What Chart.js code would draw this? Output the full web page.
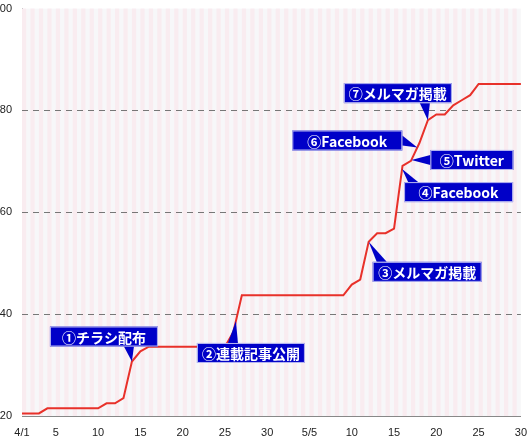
<!DOCTYPE html>
<html><head><meta charset="utf-8">
<script src="https://cdn.jsdelivr.net/npm/chart.js@4"></script>
<style>body{margin:0;background:#fff}#wrap{width:529px;height:436px}</style>
</head><body><div id="wrap"><canvas id="c"></canvas></div>
<script>
var days = [];
for (var d = 1; d <= 30; d++) days.push(d == 1 ? '4/1' : String(d));
for (var d = 1; d <= 30; d++) days.push(d == 5 ? '5/5' : String(d));
var visits = [20.5,20.5,20.5,21.5,21.5,21.5,21.5,21.5,21.5,21.5,
  22.5,22.5,23.5,30.7,32.7,33.6,33.6,33.6,33.6,33.6,
  33.6,33.6,33.6,33.6,33.6,36.5,43.7,43.7,43.7,43.7,
  43.7,43.7,43.7,43.7,43.7,43.7,43.7,43.7,43.7,45.8,
  46.8,54.2,55.9,55.9,56.8,69.1,70.1,73.6,78.1,79.2,
  79.2,81,82,83,85.2,85.2,85.2,85.2,85.2,85.2];
var yTicks = [20,40,60,80,100];
// callouts: text, point index, fraction toward next point, box left/top offset from point, box w
var notes = [
  ['①チラシ配布', 13, 0, -82, -35, 108],
  ['②連載記事公開', 25, 0.3, -39, 22, 108],
  ['③メルマガ掲載', 41, 0, 4, 20, 109],
  ['④Facebook', 44, 0.95, 2, 13, 109],
  ['⑤Twitter', 46, 0.05, 19, -10, 83],
  ['⑥Facebook', 46, 0.75, -125, -17, 110],
  ['⑦メルマガ掲載', 48, 0, -84, -37, 108]
];

var stripes = {
  id: 'stripes',
  beforeDatasetsDraw: function(chart) {
    var ctx = chart.ctx, a = chart.chartArea, x = chart.scales.x;
    ctx.save();
    ctx.fillStyle = '#f7f7f9';
    ctx.fillRect(a.left, a.top, a.right - a.left, a.bottom - a.top);
    var step = x.getPixelForValue(1) - x.getPixelForValue(0);
    ctx.fillStyle = '#f9ecf0';
    for (var i = 0; i < days.length; i++) {
      var px = x.getPixelForValue(i);
      ctx.fillRect(px, a.top, Math.min(step / 2, a.right - px), a.bottom - a.top);
    }
    ctx.strokeStyle = '#777'; ctx.setLineDash([6, 5]); ctx.lineWidth = 1;
    [40, 60, 80].forEach(function(v) {
      var py = Math.round(chart.scales.y.getPixelForValue(v)) + 0.5;
      ctx.beginPath(); ctx.moveTo(a.left, py); ctx.lineTo(a.right, py); ctx.stroke();
    });
    ctx.restore();
  },
  afterDatasetsDraw: function(chart) {
    var ctx = chart.ctx, x = chart.scales.x, y = chart.scales.y;
    ctx.save();
    ctx.font = 'bold 14px "Noto Sans CJK JP", sans-serif';
    ctx.textBaseline = 'middle';
    notes.forEach(function(n) {
      var i = n[1], f = n[2];
      var j = f < 0 ? i - 1 : i + 1, ff = Math.abs(f);
      var px = x.getPixelForValue(i) + (x.getPixelForValue(j) - x.getPixelForValue(i)) * ff;
      var py = y.getPixelForValue(visits[i]) + (y.getPixelForValue(visits[j]) - y.getPixelForValue(visits[i])) * ff;
      var bx = px + n[3], by = py + n[4], bw = n[5], bh = 20;
      var cx = Math.min(Math.max(px, bx + 10), bx + bw - 10);
      var cy = by + bh / 2;
      ctx.fillStyle = '#0000c8';
      ctx.beginPath();
      if (Math.abs(px - cx) > Math.abs(py - cy) && (px < bx || px > bx + bw)) {
        var ex = px < bx ? bx : bx + bw;
        ctx.moveTo(ex, cy - 5); ctx.lineTo(px, py); ctx.lineTo(ex, cy + 5);
      } else {
        var ey = py < by ? by : by + bh;
        var sx = Math.min(Math.max(px, bx + 12), bx + bw - 12);
        ctx.moveTo(sx - 8, ey); ctx.lineTo(px, py); ctx.lineTo(sx + 2, ey);
      }
      ctx.fill();
      ctx.fillRect(bx, by, bw, bh);
      ctx.strokeStyle = '#b8b8f0'; ctx.lineWidth = 1;
      ctx.strokeRect(bx + 0.5, by + 0.5, bw - 1, bh - 1);
      ctx.fillStyle = '#fff';
      ctx.textAlign = 'center';
      ctx.fillText(n[0], bx + bw / 2, cy + 1);
    });
    ctx.restore();
  }
};

new Chart(document.getElementById('c'), {
  type: 'line',
  data: { labels: days, datasets: [{ data: visits, borderColor: '#e8312a', borderWidth: 2, pointRadius: 0, tension: 0, fill: false }] },
  options: {
    animation: false, responsive: true, maintainAspectRatio: false,
    layout: { padding: { top: -2, right: 3, left: 0, bottom: 0 } },
    plugins: { legend: { display: false }, tooltip: { enabled: false } },
    scales: {
      x: {
        offset: false,
        grid: { display: false },
        border: { color: '#888', width: 1 },
        afterFit: function(s) { s.height = 20; },
        ticks: { autoSkip: false, maxRotation: 0, color: '#222', font: { size: 11 }, padding: 2,
          callback: function(v, i) { return (i == 0 || i == 34 || i % 5 == 4) ? days[i] : ''; } }
      },
      y: {
        min: 20, max: 100,
        afterBuildTicks: function(s) { s.ticks = yTicks.map(function(v) { return { value: v }; }); },
        afterFit: function(s) { s.width = 22; },
        grid: { display: false },
        border: { color: '#888', width: 1 },
        ticks: { color: '#222', font: { size: 11 }, padding: 2 }
      }
    }
  },
  plugins: [stripes]
});
</script></body></html>
